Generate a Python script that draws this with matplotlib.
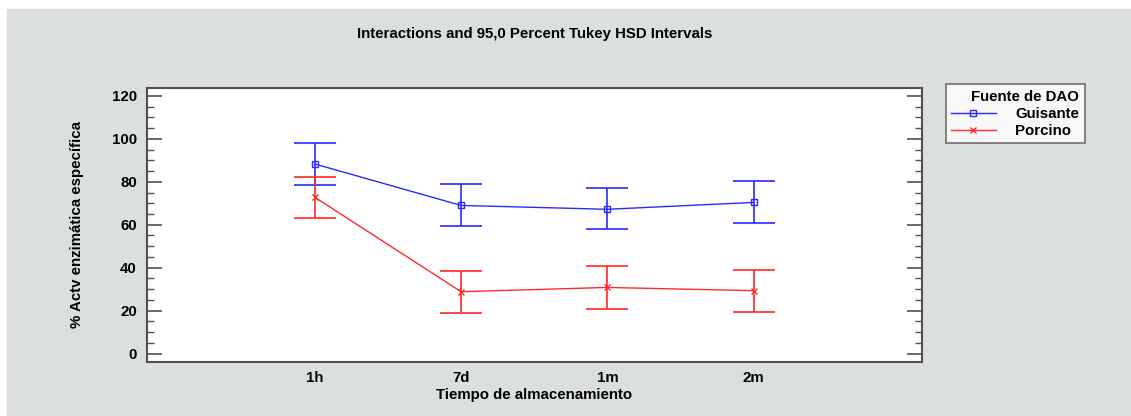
import numpy as np
import matplotlib
matplotlib.use("Agg")
import matplotlib.pyplot as plt

plt.rcParams['font.family'] = ['Liberation Sans', 'DejaVu Sans']
plt.rcParams['font.weight'] = 'bold'

times = ['1h', '7d', '1m', '2m']
guisante_mean = [88.3, 69.0, 67.2, 70.4]
guisante_low = [78.4, 59.3, 57.9, 60.7]
guisante_high = [97.9, 79.0, 77.0, 80.2]
porcino_mean = [72.8, 28.8, 30.8, 29.3]
porcino_low = [63.0, 19.0, 20.9, 19.5]
porcino_high = [82.4, 38.4, 40.6, 39.1]

bg = '#dce0dc'
edge = '#505050'
fs = 10.8

fig = plt.figure(figsize=(11.31, 4.16), dpi=100)
fig.patch.set_facecolor('white')
# grey panel (white strip left/top like the screenshot)
fig.patches.append(plt.Rectangle((7 / 1131, 0), 1, (416 - 9) / 416,
                                 transform=fig.transFigure, color=bg, zorder=-10))

ax = fig.add_axes([146.7 / 1131, 1 - 361.5 / 416, (921.7 - 146.7) / 1131, (361.5 - 88) / 416])
x = np.arange(1, len(times) + 1)

def series(mean, low, high, color, marker, ms, label):
    m = np.array(mean)
    yerr = [m - np.array(low), np.array(high) - m]
    ax.errorbar(x, m, yerr=yerr, fmt='none', ecolor=color, elinewidth=1.2,
                capsize=15, capthick=1.2, zorder=3)
    ax.plot(x, m, color=color, lw=1.0, marker=marker, ms=ms, mfc='none',
            mec=color, mew=1.0, label=label, zorder=4)

series(guisante_mean, guisante_low, guisante_high, '#2a2aff', 's', 5, 'Guisante')
series(porcino_mean, porcino_low, porcino_high, '#ff2a2a', 'x', 4, 'Porcino')

ax.set_xlim(-0.15, 5.15)
ax.set_ylim(-3.7, 123.7)
ax.set_xticks(x)
ax.set_xticklabels(times)
ax.set_yticks(np.arange(0, 121, 20))
ax.set_yticks(np.arange(0, 121, 5), minor=True)
ax.tick_params(axis='y', which='major', direction='in', length=11, width=1.2,
               color=edge, right=True, labelsize=fs, pad=7)
ax.tick_params(axis='y', which='minor', direction='in', length=5, width=1.0,
               color=edge, right=True)
ax.tick_params(axis='x', length=0, labelsize=fs, pad=7)
for s in ax.spines.values():
    s.set_color(edge)
    s.set_linewidth(1.5)

ax.set_title('Interactions and 95,0 Percent Tukey HSD Intervals',
             fontsize=fs, fontweight='bold', pad=36)
ax.set_xlabel('Tiempo de almacenamiento', fontsize=fs, fontweight='bold', labelpad=2)
ax.set_ylabel('% Actv enzimática específica', fontsize=fs, fontweight='bold', labelpad=20)

leg = fig.legend(loc='upper left', bbox_to_anchor=(945.7 / 1131, 1 - 84.3 / 416),
                 title='Fuente de DAO', fontsize=fs, title_fontsize=fs,
                 frameon=True, fancybox=False, borderpad=0.35, borderaxespad=0,
                 handlelength=3.0, handletextpad=1.3, labelspacing=0.22,
                 alignment='right')
leg.get_frame().set_edgecolor(edge)
leg.get_frame().set_linewidth(1.2)
leg.get_title().set_fontweight('bold')
for t in leg.get_texts():
    t.set_fontweight('bold')

fig.savefig('out.png', dpi=100, facecolor=fig.get_facecolor())
